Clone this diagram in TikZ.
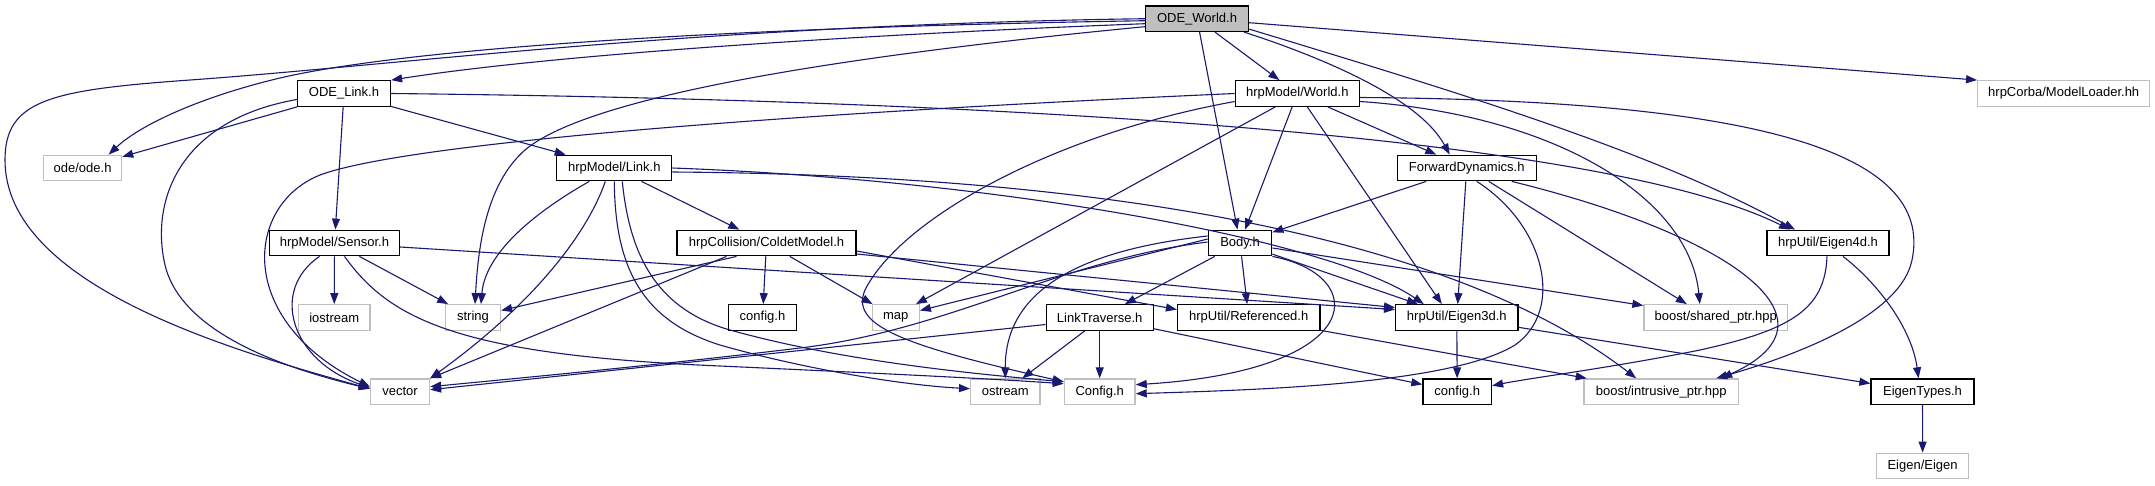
\documentclass[tikz,border=0pt]{standalone}
\usepackage{fontspec}
\setmainfont{Liberation Sans}
\usetikzlibrary{arrows.meta,calc}
\definecolor{edgeblue}{HTML}{191970}
\definecolor{gborder}{HTML}{BFBFBF}
\begin{document}
\begin{tikzpicture}[x=1pt,y=-1pt,
  base/.style={rectangle,inner sep=0pt,minimum height=25.5pt,line width=1.3pt,
    font=\fontsize{13}{15}\selectfont},
  box/.style={base,draw=black,fill=white},
  gbox/.style={base,draw=gborder,fill=white},
  root/.style={base,draw=black,fill=gborder},
  e/.style={draw=edgeblue,line width=1.1pt,-{Triangle[length=11pt,width=8pt]},fill=none}]
\fill[white] (0,0) rectangle (2155,485);
\useasboundingbox (0,0) rectangle (2155,485);

% nodes
\node[root,minimum width=103pt] (ODEWorld) at (1197,18.7) {ODE\_World.h};
\node[box,minimum width=93pt] (ODELink) at (344,93.5) {ODE\_Link.h};
\node[gbox,minimum width=172pt] (ModelLoader) at (2063.7,93.5) {hrpCorba/ModelLoader.hh};
\node[box,minimum width=124pt] (World) at (1297.3,93.5) {hrpModel/World.h};
\node[gbox,minimum width=78pt] (odeh) at (82.6,168) {ode/ode.h};
\node[box,minimum width=115pt] (Link) at (614.3,168) {hrpModel/Link.h};
\node[box,minimum width=139pt] (FD) at (1466.7,168) {ForwardDynamics.h};
\node[box,minimum width=130pt] (Sensor) at (334.5,243) {hrpModel/Sensor.h};
\node[box,minimum width=179pt] (Coldet) at (766.5,243) {hrpCollision/ColdetModel.h};
\node[box,minimum width=63.4pt] (Body) at (1240,243) {Body.h};
\node[box,minimum width=122pt] (Eigen4d) at (1828,243) {hrpUtil/Eigen4d.h};
\node[gbox,minimum width=71.6pt] (iostream) at (334.2,317.5) {iostream};
\node[gbox,minimum width=55pt] (string) at (473,317.5) {string};
\node[box,minimum width=68pt] (configC) at (762.5,317.5) {config.h};
\node[gbox,minimum width=47pt] (map) at (895.8,317.5) {map};
\node[box,minimum width=107pt] (LinkTraverse) at (1099.7,317.5) {LinkTraverse.h};
\node[box,minimum width=142.3pt] (Referenced) at (1248.7,317.5) {hrpUtil/Referenced.h};
\node[box,minimum width=122.4pt] (Eigen3d) at (1456.8,317.5) {hrpUtil/Eigen3d.h};
\node[gbox,minimum width=143.6pt] (sharedptr) at (1715.8,317.5) {boost/shared\_ptr.hpp};
\node[gbox,minimum width=59pt] (vector) at (400,391.7) {vector};
\node[gbox,minimum width=69.3pt] (ostream) at (1005.3,391.7) {ostream};
\node[gbox,minimum width=70.7pt] (Config) at (1099.7,391.7) {Config.h};
\node[box,minimum width=68.5pt] (configR) at (1457.2,391.7) {config.h};
\node[gbox,minimum width=154.5pt] (intrusive) at (1661.2,391.7) {boost/intrusive\_ptr.hpp};
\node[box,minimum width=103pt] (EigenTypes) at (1922.5,391.7) {EigenTypes.h};
\node[gbox,minimum width=92pt] (EigenEigen) at (1922.6,466) {Eigen/Eigen};

% ODE_World.h
\draw[e] ($(ODEWorld.west)+(0,5)$) .. controls (850,35) and (550,55) .. (ODELink.north east);
\draw[e] ($(ODEWorld.west)+(0,2)$) .. controls (700,28) and (400,50) .. (280,78) .. controls (200,97) and (140,125) .. ($(odeh.north)+(26,0)$);
\draw[e] ($(ODEWorld.west)+(0,0)$) .. controls (700,25) and (400,65) .. (190,80) .. controls (50,90) and (5,100) .. (5,160) .. controls (5,285) and (230,350) .. ($(vector.west)+(0,-3)$);
\draw[e] ($(ODEWorld.west)+(0,8)$) .. controls (850,55) and (590,95) .. (525,150) .. controls (485,185) and (478,250) .. ($(string.north)+(2,0)$);
\draw[e] (ODEWorld) -- (World);
\draw[e] (ODEWorld) -- (Body);
\draw[e] ($(ODEWorld.south east)+(-5,0)$) .. controls (1330,60) and (1420,100) .. ($(FD.north)+(-17,0)$);
\draw[e] ($(ODEWorld.south east)+(0,-3)$) .. controls (1450,90) and (1650,150) .. ($(Eigen4d.north)+(-33,0)$);
\draw[e] ($(ODEWorld.east)+(0,4)$) -- (ModelLoader.north west);

% ODE_Link.h
\draw[e] (ODELink) -- (odeh);
\draw[e] (ODELink) -- (Sensor);
\draw[e] (ODELink) -- (Link);
\draw[e] ($(ODELink.west)+(0,6)$) .. controls (180,120) and (150,200) .. (165,265) .. controls (178,320) and (250,360) .. ($(vector.west)+(0,-3)$);
\draw[e] (ODELink.east) .. controls (1000,100) and (1600,135) .. ($(Eigen4d.north)+(-38,0)$);

% hrpModel/World.h
\draw[e] (World.west) .. controls (750,115) and (400,145) .. (320,175) .. controls (245,205) and (235,320) .. ($(vector.west)+(0,-5)$);
\draw[e] ($(World.south)+(-22,0)$) -- ($(map.north east)+(-4,0)$);
\draw[e] ($(World.west)+(0,8)$) .. controls (1050,135) and (900,220) .. (865,290) .. controls (850,325) and (900,345) .. ($(Config.west)+(0,-10)$);
\draw[e] (World) -- (Body);
\draw[e] ($(World.south)+(10,0)$) -- ($(Eigen3d.north)+(-15,0)$);
\draw[e] (World) -- (FD);
\draw[e] ($(World.east)+(0,8)$) .. controls (1560,115) and (1690,200) .. ($(sharedptr.north)+(-16,0)$);
\draw[e] ($(World.east)+(0,4)$) .. controls (1750,100) and (1935,150) .. (1912,260) .. controls (1900,320) and (1780,360) .. ($(intrusive.north)+(55,0)$);

% ForwardDynamics.h
\draw[e] (FD) -- (Body);
\draw[e] (FD) -- (Eigen3d);
\draw[e] ($(FD.south)+(10,0)$) .. controls (1545,225) and (1565,310) .. (1515,345) .. controls (1450,385) and (1250,390) .. ($(Config.east)+(0,2)$);
\draw[e] ($(FD.south)+(22,0)$) -- ($(sharedptr.north)+(-29,0)$);
\draw[e] ($(FD.south)+(45,0)$) .. controls (1730,235) and (1850,320) .. ($(intrusive.north)+(60,0)$);

% Body.h
\draw[e] ($(Body.west)+(0,-4)$) -- ($(map.east)+(0,-7)$);
\draw[e] ($(Body.west)+(0,-1)$) .. controls (1060,260) and (950,330) .. (800,348) .. controls (650,366) and (520,378) .. ($(vector.east)+(0,-5)$);
\draw[e] ($(Body.west)+(0,-7)$) .. controls (1080,250) and (1005,290) .. (ostream.north);
\draw[e] (Body) -- (LinkTraverse);
\draw[e] (Body) -- (Referenced);
\draw[e] (Body) -- (Eigen3d);
\draw[e] ($(Body.east)+(0,5)$) -- ($(sharedptr.west)+(0,-12)$);
\draw[e] (Body.south east) .. controls (1370,275) and (1370,370) .. ($(Config.east)+(0,-7)$);

% LinkTraverse.h
\draw[e] ($(LinkTraverse.west)+(0,7)$) -- ($(vector.east)+(0,-2)$);
\draw[e] ($(LinkTraverse.south)+(-15,0)$) -- ($(ostream.north)+(17,0)$);
\draw[e] (LinkTraverse) -- (Config);
\draw[e] (LinkTraverse) -- (configR);

% hrpUtil
\draw[e] (Referenced) -- (intrusive);
\draw[e] (Eigen3d) -- (configR);
\draw[e] (Eigen3d) -- (EigenTypes);
\draw[e] ($(Eigen4d.south)+(-1,0)$) .. controls (1825,310) and (1790,330) .. (1700,350) .. controls (1610,368) and (1530,378) .. ($(configR.east)+(0,-6)$);
\draw[e] ($(Eigen4d.south)+(15,0)$) .. controls (1880,285) and (1912,330) .. ($(EigenTypes.north)+(-4,0)$);
\draw[e] (EigenTypes) -- (EigenEigen);

% hrpModel/Link.h
\draw[e] (Link) -- (Coldet);
\draw[e] ($(Link.south)+(-25,0)$) .. controls (530,215) and (485,255) .. ($(string.north)+(8,0)$);
\draw[e] ($(Link.south)+(-9,0)$) .. controls (585,240) and (525,310) .. (vector.north east);
\draw[e] (Link.south) .. controls (615,265) and (640,320) .. (720,345) .. controls (800,368) and (900,385) .. ($(ostream.west)+(0,-3)$);
\draw[e] ($(Link.south)+(8,0)$) .. controls (630,260) and (660,310) .. (730,330) .. controls (830,358) and (950,372) .. ($(Config.west)+(0,-10)$);
\draw[e] (Link.east) .. controls (1000,180) and (1330,240) .. ($(Eigen3d.north)+(-33,0)$);
\draw[e] ($(Link.east)+(0,4)$) .. controls (1100,175) and (1450,235) .. ($(intrusive.north)+(-25,0)$);

% hrpModel/Sensor.h
\draw[e] (Sensor) -- (iostream);
\draw[e] (Sensor) -- (string);
\draw[e] ($(Sensor.south)+(-15,0)$) .. controls (270,290) and (290,360) .. ($(vector.west)+(0,-4)$);
\draw[e] ($(Sensor.south)+(10,0)$) .. controls (390,320) and (460,355) .. (720,366) .. controls (850,372) and (980,378) .. ($(Config.west)+(0,-8)$);
\draw[e] ($(Sensor.east)+(0,4)$) -- ($(Eigen3d.west)+(0,-8)$);

% hrpCollision/ColdetModel.h
\draw[e] ($(Coldet.south)+(-30,0)$) -- ($(string.east)+(0,-7)$);
\draw[e] ($(Coldet.south)+(-40,0)$) -- (vector.north east);
\draw[e] (Coldet) -- (configC);
\draw[e] (Coldet) -- (map);
\draw[e] ($(Coldet.east)+(0,8)$) -- ($(Referenced.west)+(0,-8)$);
\draw[e] ($(Coldet.east)+(0,11)$) -- ($(Eigen3d.west)+(0,-10)$);
\end{tikzpicture}
\end{document}
